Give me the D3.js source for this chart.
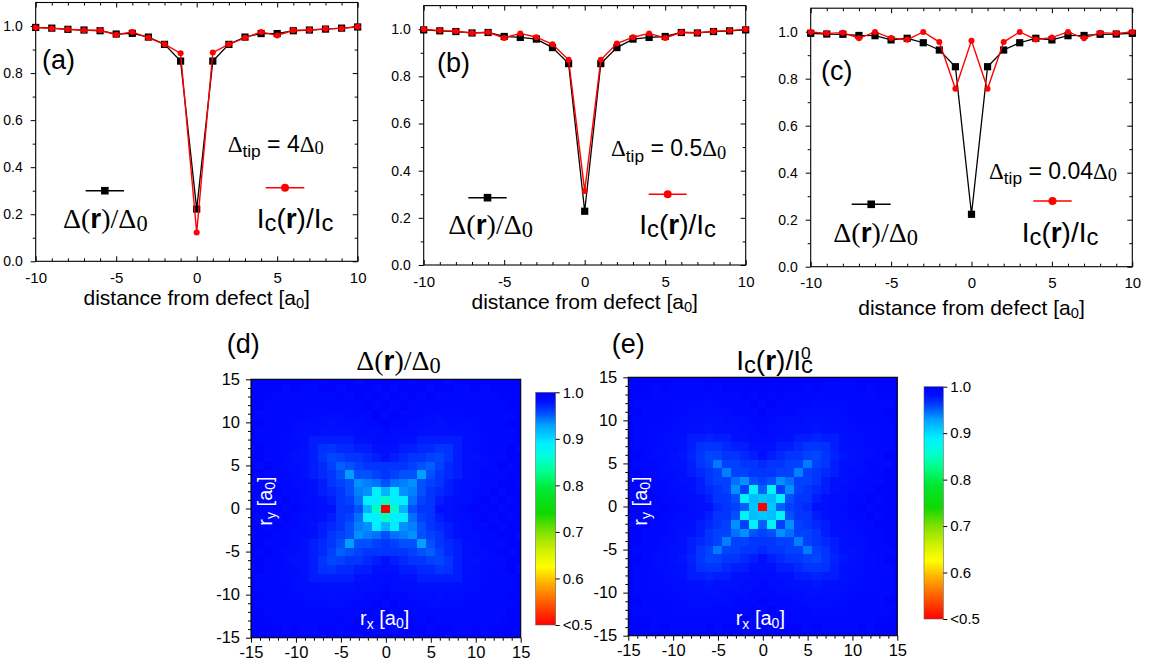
<!DOCTYPE html>
<html><head><meta charset="utf-8">
<script src="https://cdn.jsdelivr.net/npm/d3@7"></script>
<style>
body{margin:0;background:#fff;}
svg{display:block;font-family:"Liberation Sans",Arial,sans-serif;}
</style></head><body>
<svg id="c" width="1152" height="669"></svg>
<script>
// ---------------- data ----------------
const distance = [-10,-9,-8,-7,-6,-5,-4,-3,-2,-1,0,1,2,3,4,5,6,7,8,9,10];
const gapA = [0.994,0.991,0.986,0.983,0.980,0.966,0.969,0.953,0.922,0.851,0.222,0.851,0.922,0.953,0.968,0.968,0.980,0.983,0.987,0.991,0.996];
const currentA = [0.994,0.990,0.986,0.982,0.982,0.963,0.975,0.950,0.923,0.884,0.122,0.887,0.923,0.950,0.975,0.960,0.982,0.983,0.988,0.990,0.997];
const gapB = [0.997,0.993,0.990,0.984,0.986,0.969,0.965,0.958,0.922,0.854,0.228,0.854,0.922,0.958,0.965,0.969,0.986,0.984,0.990,0.993,0.997];
const currentB = [1.000,0.994,0.991,0.984,0.987,0.963,0.982,0.966,0.936,0.870,0.314,0.870,0.939,0.966,0.982,0.963,0.987,0.985,0.991,0.994,1.000];
const gapC = [0.993,0.990,0.989,0.984,0.983,0.965,0.972,0.953,0.922,0.851,0.223,0.851,0.922,0.953,0.972,0.965,0.983,0.984,0.989,0.990,0.993];
const currentC = [0.999,0.993,0.996,0.972,0.999,0.973,0.966,0.999,0.956,0.757,0.962,0.757,0.956,0.999,0.967,0.975,0.999,0.972,0.996,0.993,0.999];
const tipValues = ["4","0.5","0.04"];
const panelLabels = ["(a)","(b)","(c)","(d)","(e)"];
const yTicks = [0,0.2,0.4,0.6,0.8,1.0];
const xTicks = [-10,-5,0,5,10];
const mapTicks = [-15,-10,-5,0,5,10,15];
const barTicks = [0.5,0.6,0.7,0.8,0.9,1.0];
// maps are fourfold symmetric: quadrant [|ry|][|rx|], values x1000
const gapMapQuadrant = [
 [220,850,920,955,965,965,980,980,985,990,995,990,995,990,995,995],
 [850,890,890,945,960,965,975,980,985,985,990,995,990,995,990,995],
 [920,890,935,940,955,965,970,975,980,985,990,990,995,990,995,995],
 [955,945,940,935,955,960,965,975,980,985,985,990,990,995,995,990],
 [965,960,955,955,930,955,965,970,975,980,985,990,990,990,995,995],
 [965,965,965,960,955,950,960,970,975,980,985,985,990,995,990,995],
 [980,975,970,965,965,960,958,965,975,980,980,985,990,990,995,995],
 [980,980,975,975,970,970,965,966,975,980,985,988,990,990,995,990],
 [985,985,980,980,975,975,975,975,975,982,985,988,990,990,990,995],
 [990,985,985,985,980,980,980,980,982,982,985,990,990,990,990,995],
 [995,990,990,985,985,985,980,985,985,985,988,990,990,990,995,995],
 [990,995,990,990,990,985,985,988,988,990,990,990,990,990,990,995],
 [995,990,995,990,990,990,990,990,990,990,990,990,990,990,995,995],
 [990,995,990,995,990,995,990,990,990,990,990,990,990,992,995,995],
 [995,990,995,995,995,990,995,995,990,990,995,990,995,995,995,995],
 [995,995,995,990,995,995,995,990,995,995,995,995,995,995,995,995]
];
const currentMapQuadrant = [
 [300,910,950,960,965,970,980,980,985,990,990,995,990,995,995,995],
 [910,915,885,955,965,965,975,980,985,985,990,990,995,990,995,995],
 [950,885,960,935,960,965,970,975,980,985,985,990,990,995,995,995],
 [960,955,935,945,960,960,965,975,980,980,985,990,990,990,995,995],
 [965,965,960,960,940,960,965,970,975,980,985,985,990,990,995,995],
 [970,965,965,960,960,942,960,965,975,980,980,985,990,990,990,995],
 [980,975,970,965,965,960,958,965,972,978,980,985,985,990,995,995],
 [980,980,975,975,970,965,965,966,975,980,982,985,988,990,990,995],
 [985,985,980,980,975,975,972,975,975,980,984,985,988,990,990,995],
 [990,985,985,980,980,980,978,980,980,982,985,988,988,990,990,995],
 [990,990,985,985,985,980,980,982,984,985,988,990,990,990,990,995],
 [995,990,990,990,985,985,985,985,985,988,990,990,990,990,995,995],
 [990,995,990,990,990,990,985,988,988,988,990,990,990,990,990,995],
 [995,990,995,990,990,990,990,990,990,990,990,990,990,992,995,995],
 [995,995,995,995,995,990,995,990,990,990,990,995,990,995,995,995],
 [995,995,995,995,995,995,995,995,995,995,995,995,995,995,995,995]
];

// ---------------- style ----------------
const SERIF = '"Liberation Serif","Times New Roman",serif';
const colorStops = [0.5,0.55,0.59,0.625,0.66,0.70,0.74,0.79,0.83,0.86,0.89,0.93,0.96,0.98,1.0];
const colorRange = ['#ff0000','#ff6000','#ffb000','#ffff00','#d0f000','#80e000','#10d800','#00e830','#00ff90','#00ffd8','#00f0ff','#00a0ff','#0040ff','#0010ff','#0000fa'];
const color = d3.scaleLinear().domain(colorStops).range(colorRange).clamp(true);

const svg = d3.select('#c');

function rich(g, x, y, size, parts, opt={}) {
  const t = g.append('text').attr('x',x).attr('y',y).attr('font-size',size).attr('fill',opt.fill||'#000');
  if (opt.anchor) t.attr('text-anchor',opt.anchor);
  if (opt.transform) t.attr('transform',opt.transform);
  let shift = 0;
  parts.forEach(p => {
    const s = t.append('tspan').text(p.t);
    if (p.serif) s.attr('font-family',SERIF);
    if (p.bold) s.attr('font-weight','bold');
    const target = (p.shift||0)*size;
    if (target !== shift) { s.attr('dy', target - shift); shift = target; }
    if (p.scale) s.attr('font-size', size*p.scale);
    if (p.dx) s.attr('dx', p.dx*size);
  });
  return t;
}
const gapLabel = [{t:'Δ',serif:1},{t:'(',serif:1},{t:'r',bold:1},{t:')',serif:1},{t:'/',serif:1},{t:'Δ',serif:1},{t:'0',serif:1,scale:0.8,shift:0.12}];
const curLabel = [{t:'I'},{t:'c',scale:0.85,shift:0.1},{t:'('},{t:'r',bold:1},{t:')'},{t:'/I'},{t:'c',scale:0.85,shift:0.1}];

// ---------------- line panels ----------------
const LP = [
 {x0:35.7,x1:357.7,yb:261.3,yt:2.5, lab:[42,69], bl:[85.7,124,190.7], rl:[265.7,304.3,187.7], bt:[63,227.5], rt:[256.7,228], tip:[227.7,151.5], title:305},
 {x0:423.7,x1:745.7,yb:265,yt:5.6, lab:[437,72], bl:[468.3,506.7,197.7], rl:[648.7,686.7,194.3], bt:[448.3,234], rt:[639.3,234], tip:[611,156], title:309},
 {x0:810.7,x1:1132.3,yb:266.7,yt:8.2, lab:[821,80], bl:[851.7,890.7,204.3], rl:[1033.3,1071.7,201], bt:[833.3,242], rt:[1021.7,242], tip:[989,178.5], title:315}
];
const lineSeries = [[gapA,currentA],[gapB,currentB],[gapC,currentC]];

LP.forEach((c, k) => {
  const g = svg.append('g');
  const x = d3.scaleLinear().domain([-10,10]).range([c.x0,c.x1]);
  const y = d3.scaleLinear().domain([0,1.1]).range([c.yb,c.yt]);
  const minorX = d3.range(-10,11,1).filter(v => v % 5 !== 0);
  const minorY = [0.1,0.3,0.5,0.7,0.9];
  const ax = (sel) => { sel.select('.domain').remove(); sel.selectAll('line').attr('stroke','#000'); sel.selectAll('text').attr('fill','#000'); };
  g.append('g').attr('transform',`translate(0,${c.yb})`).call(d3.axisBottom(x).tickValues(xTicks).tickSize(-5).tickPadding(11).tickFormat(d=>String(d))).call(ax).attr('font-size',15).attr('font-family',null);
  g.append('g').attr('transform',`translate(0,${c.yb})`).call(d3.axisBottom(x).tickValues(minorX).tickSize(-3).tickFormat('')).call(ax);
  g.append('g').attr('transform',`translate(0,${c.yt})`).call(d3.axisBottom(x).tickValues(xTicks).tickSize(5).tickFormat('')).call(ax);
  g.append('g').attr('transform',`translate(0,${c.yt})`).call(d3.axisBottom(x).tickValues(minorX).tickSize(3).tickFormat('')).call(ax);
  g.append('g').attr('transform',`translate(${c.x0},0)`).call(d3.axisLeft(y).tickValues(yTicks).tickSize(5).tickPadding(8).tickFormat(d3.format('.1f'))).call(ax).attr('font-size',14).attr('font-family',null);
  g.append('g').attr('transform',`translate(${c.x0},0)`).call(d3.axisLeft(y).tickValues(minorY).tickSize(3).tickFormat('')).call(ax);
  g.append('g').attr('transform',`translate(${c.x1},0)`).call(d3.axisLeft(y).tickValues(yTicks).tickSize(5).tickFormat('')).call(ax);
  g.append('g').attr('transform',`translate(${c.x1},0)`).call(d3.axisLeft(y).tickValues(minorY).tickSize(3).tickFormat('')).call(ax);
  g.append('rect').attr('x',c.x0).attr('y',c.yt).attr('width',c.x1-c.x0).attr('height',c.yb-c.yt).attr('fill','none').attr('stroke','#000').attr('stroke-width',1.1);

  const [gap, cur] = lineSeries[k];
  const line = d3.line().x((d,i)=>x(distance[i])).y(d=>y(d));
  g.append('path').attr('d',line(gap)).attr('fill','none').attr('stroke','#000').attr('stroke-width',1.3);
  g.selectAll('rect.sq').data(gap).join('rect').attr('class','sq')
    .attr('x',(d,i)=>x(distance[i])-3.6).attr('y',d=>y(d)-3.6).attr('width',7.2).attr('height',7.2).attr('fill','#000');
  g.append('path').attr('d',line(cur)).attr('fill','none').attr('stroke','#ff0000').attr('stroke-width',1.4);
  g.selectAll('circle.ci').data(cur).join('circle').attr('class','ci')
    .attr('cx',(d,i)=>x(distance[i])).attr('cy',d=>y(d)).attr('r',3).attr('fill','#ff0000');

  g.append('line').attr('x1',c.bl[0]).attr('x2',c.bl[1]).attr('y1',c.bl[2]).attr('y2',c.bl[2]).attr('stroke','#000').attr('stroke-width',1.5);
  g.append('rect').attr('x',(c.bl[0]+c.bl[1])/2-3.8).attr('y',c.bl[2]-3.8).attr('width',7.6).attr('height',7.6).attr('fill','#000');
  g.append('line').attr('x1',c.rl[0]).attr('x2',c.rl[1]).attr('y1',c.rl[2]).attr('y2',c.rl[2]).attr('stroke','#ff0000').attr('stroke-width',1.5);
  g.append('circle').attr('cx',(c.rl[0]+c.rl[1])/2).attr('cy',c.rl[2]).attr('r',4).attr('fill','#ff0000');
  rich(g, c.bt[0], c.bt[1], 28, gapLabel);
  rich(g, c.rt[0], c.rt[1], 28, curLabel);
  rich(g, c.tip[0], c.tip[1], 23, [{t:'Δ',serif:1},{t:'tip',scale:0.75,shift:0.25},{t:' = '+tipValues[k]},{t:'Δ',serif:1},{t:'0',serif:1,scale:0.8,shift:0.12}]);
  g.append('text').attr('x',c.lab[0]).attr('y',c.lab[1]).attr('font-size',27).text(panelLabels[k]);
  rich(g, (c.x0+c.x1)/2, c.title, 21, [{t:'distance from defect [a'},{t:'0',scale:0.7,shift:0.15},{t:']'}], {anchor:'middle'});
});

// ---------------- maps ----------------
const HP = [
 {x0:251,x1:520.7,yt:379.3,yb:637.7, bx0:535.7,bx1:555.7,byt:392.3,byb:625, lab:[226.7,353], title:[398.5,370], ry:[272,501], rx:[360,625]},
 {x0:628.3,x1:897.3,yt:377.3,yb:635.7, bx0:924,bx1:943.3,byt:386.7,byb:619, lab:[611.7,353], title:[774.5,370], ry:[647,501], rx:[735.7,625]}
];
const maps = [gapMapQuadrant, currentMapQuadrant];
const defs = svg.append('defs');
const grad = defs.append('linearGradient').attr('id','cbar').attr('x1',0).attr('y1',1).attr('x2',0).attr('y2',0);
colorStops.forEach((v,i) => grad.append('stop').attr('offset',(v-0.5)/0.5).attr('stop-color',colorRange[i]));

HP.forEach((c, k) => {
  const g = svg.append('g');
  const x = d3.scaleLinear().domain([-15,15]).range([c.x0,c.x1]);
  const y = d3.scaleLinear().domain([-15,15]).range([c.yb,c.yt]);
  defs.append('clipPath').attr('id','clip'+k).append('rect').attr('x',c.x0).attr('y',c.yt).attr('width',c.x1-c.x0).attr('height',c.yb-c.yt);
  const q = maps[k];
  const cells = [];
  d3.range(-15,16).forEach(j => d3.range(-15,16).forEach(i => cells.push({i, j, v: q[Math.abs(j)][Math.abs(i)]/1000})));
  g.append('g').attr('clip-path',`url(#clip${k})`).attr('shape-rendering','crispEdges').selectAll('rect').data(cells).join('rect')
    .attr('x',d=>x(d.i-0.5)).attr('y',d=>y(d.j+0.5))
    .attr('width',d=>x(d.i+0.5)-x(d.i-0.5)+0.5).attr('height',d=>y(d.j-0.5)-y(d.j+0.5)+0.5)
    .attr('fill',d=>color(d.v));
  g.append('rect').attr('x',c.x0).attr('y',c.yt).attr('width',c.x1-c.x0).attr('height',c.yb-c.yt).attr('fill','none').attr('stroke','#000').attr('stroke-width',1.1);
  const minor = d3.range(-15,16).filter(v => v % 5 !== 0);
  const ax = (sel) => { sel.select('.domain').remove(); sel.selectAll('line').attr('stroke','#000'); sel.selectAll('text').attr('fill','#000'); };
  g.append('g').attr('transform',`translate(0,${c.yb})`).call(d3.axisBottom(x).tickValues(mapTicks).tickSize(5).tickPadding(4).tickFormat(d=>String(d))).call(ax).attr('font-size',16.5).attr('font-family',null);
  g.append('g').attr('transform',`translate(0,${c.yb})`).call(d3.axisBottom(x).tickValues(minor).tickSize(3).tickFormat('')).call(ax);
  g.append('g').attr('transform',`translate(${c.x0},0)`).call(d3.axisLeft(y).tickValues(mapTicks).tickSize(5).tickPadding(6).tickFormat(d=>String(d))).call(ax).attr('font-size',16.5).attr('font-family',null);
  g.append('g').attr('transform',`translate(${c.x0},0)`).call(d3.axisLeft(y).tickValues(minor).tickSize(3).tickFormat('')).call(ax);

  rich(g, 0, 0, 20, [{t:'r'},{t:'y',scale:0.7,shift:0.22},{t:' [a',shift:0},{t:'0',scale:0.7,shift:0.15},{t:']'}], {fill:'#fff', anchor:'middle', transform:`translate(${c.ry[0]},${c.ry[1]}) rotate(-90)`});
  rich(g, c.rx[0], c.rx[1], 20, [{t:'r'},{t:'x',scale:0.7,shift:0.22},{t:' [a',shift:0},{t:'0',scale:0.7,shift:0.15},{t:']'}], {fill:'#fff'});

  const cb = d3.scaleLinear().domain([0.5,1.0]).range([c.byb,c.byt]);
  g.append('rect').attr('x',c.bx0).attr('y',c.byt).attr('width',c.bx1-c.bx0).attr('height',c.byb-c.byt).attr('fill','url(#cbar)').attr('stroke','#666').attr('stroke-width',0.6);
  g.append('g').attr('transform',`translate(${c.bx1},0)`).call(d3.axisRight(cb).tickValues(barTicks).tickSize(4).tickPadding(3).tickFormat(d => d===0.5 ? '<0.5' : d3.format('.1f')(d))).call(ax).attr('font-size',15).attr('font-family',null);

  g.append('text').attr('x',c.lab[0]).attr('y',c.lab[1]).attr('font-size',27).text(panelLabels[k+3]);
  if (k === 0) rich(g, c.title[0], c.title[1], 28, gapLabel, {anchor:'middle'});
  else rich(g, c.title[0], c.title[1], 28, [{t:'I'},{t:'c',scale:0.85,shift:0.1},{t:'('},{t:'r',bold:1},{t:')'},{t:'/I'},{t:'c',scale:0.85,shift:0.1},{t:'0',scale:0.62,shift:-0.38,dx:-0.42}], {anchor:'middle'});
});
</script>
</body></html>
